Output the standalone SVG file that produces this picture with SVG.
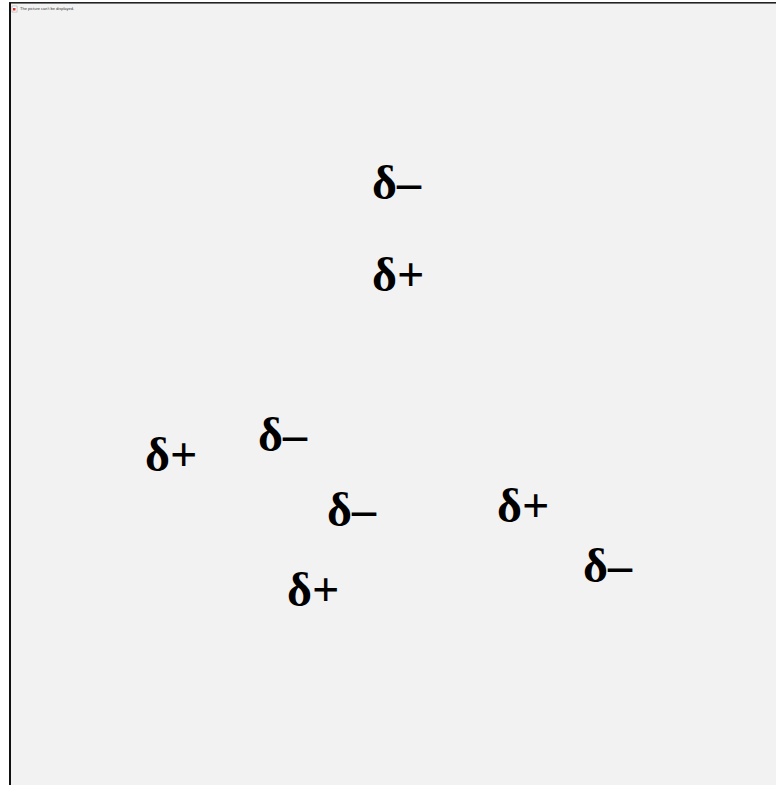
<svg xmlns="http://www.w3.org/2000/svg" width="776" height="785" viewBox="0 0 776 785">
<style>
.lbl{font-family:"Liberation Serif","Times New Roman",serif;font-weight:bold;font-size:48px;fill:#000}
.tiny{font-family:"Liberation Sans",Arial,sans-serif;font-size:4px;fill:#333}
</style>
<rect x="0" y="0" width="776" height="785" fill="#ffffff"/>
<g id="frame">
<rect x="9.5" y="2.5" width="770" height="790" fill="#f2f2f2" stroke="#222" stroke-width="1"/>
<line x1="9" y1="3.5" x2="776" y2="3.5" stroke="#777" stroke-width="1"/>
<line x1="10" y1="3" x2="10" y2="785" stroke="#111" stroke-width="2"/>
<rect x="12" y="6" width="5" height="6" fill="#fff" stroke="#999" stroke-width="0.5"/>
<rect x="13" y="8" width="2.5" height="2.5" fill="#e03030"/>
<text class="tiny" x="20" y="10">The picture can't be displayed.</text>
</g>
<g id="labels">
<g id="n1"><text class="lbl" x="372" y="199">δ–</text></g>
<g id="n2"><text class="lbl" x="372" y="291">δ+</text></g>
<g id="n3"><text class="lbl" x="145" y="471">δ+</text></g>
<g id="n4"><text class="lbl" x="258" y="451">δ–</text></g>
<g id="n5"><text class="lbl" x="327" y="526">δ–</text></g>
<g id="n6"><text class="lbl" x="497" y="522">δ+</text></g>
<g id="n7"><text class="lbl" x="583" y="582">δ–</text></g>
<g id="n8"><text class="lbl" x="287" y="606">δ+</text></g>
</g>
</svg>
